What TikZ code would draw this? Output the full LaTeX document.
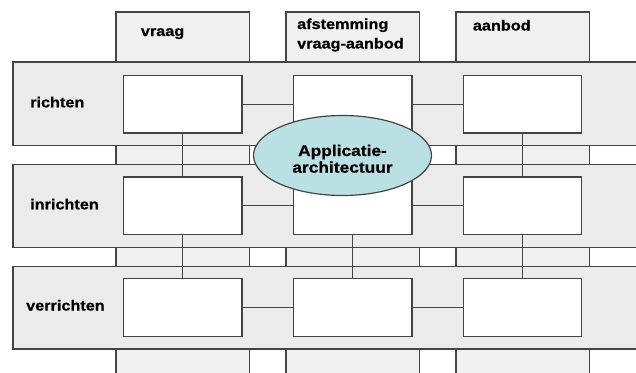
\documentclass[tikz,border=0pt]{standalone}
\usepackage{fontspec}
\setmainfont{Liberation Sans}
\newfontfamily\labfont{Liberation Sans Bold}[FakeStretch=1.12, FakeBold=0.8]
\usetikzlibrary{shapes.geometric}
\definecolor{colfill}{HTML}{F0F0F0}
\definecolor{bandfill}{HTML}{EBEBEB}
\definecolor{edge}{HTML}{444444}
\definecolor{ellfill}{HTML}{BBE0E3}
\tikzset{
  colstrip/.style={draw=edge, fill=colfill, line width=1.2pt},
  band/.style={draw=edge, fill=bandfill, line width=1.2pt},
  cell/.style={draw=edge, fill=white, line width=1.2pt, minimum width=118.5pt, minimum height=57.5pt, inner sep=0pt},
  conn/.style={draw=edge, line width=1.2pt},
  lab/.style={font=\labfont\fontsize{14.5}{17}\selectfont, inner sep=0pt, anchor=base west},
  elllab/.style={font=\labfont\fontsize{15.5}{17}\selectfont, inner sep=0pt, anchor=base},
}
\begin{document}
\begin{tikzpicture}[x=1pt,y=-1pt]
\clip (0,0) rectangle (636,372);
\fill[white] (0,0) rectangle (636,372);
% column strips
\draw[colstrip] (116,12) rectangle (249.3,380);
\draw[colstrip] (286,12) rectangle (419.3,380);
\draw[colstrip] (456,12) rectangle (589.3,380);
% bands
\draw[band] (13,62) rectangle (645,145.7);
\draw[band] (13,164.7) rectangle (645,247.3);
\draw[band] (13,266.3) rectangle (645,349);
% labels
\node[lab] (lvraag) at (140.7,36) {vraag};
\node[lab] (lafst1) at (297,29) {afstemming};
\node[lab] (lafst2) at (297,48.5) {vraag-aanbod};
\node[lab] (laanbod) at (472.7,30.5) {aanbod};
\node[lab] (lrichten) at (30,107.3) {richten};
\node[lab] (linrichten) at (30,209.3) {inrichten};
\node[lab] (lverrichten) at (26,310.5) {verrichten};
% cells
\node[cell] (b11) at (182.8,104.2) {};
\node[cell] (b12) at (352.7,104.2) {};
\node[cell] (b13) at (522.5,104.2) {};
\node[cell] (b21) at (182.8,205.7) {};
\node[cell] (b22) at (352.7,205.7) {};
\node[cell] (b23) at (522.5,205.7) {};
\node[cell] (b31) at (182.8,307.5) {};
\node[cell] (b32) at (352.7,307.5) {};
\node[cell] (b33) at (522.5,307.5) {};
% connectors
\draw[conn] (b11.east) -- (b12.west);
\draw[conn] (b12.east) -- (b13.west);
\draw[conn] (b21.east) -- (b22.west);
\draw[conn] (b22.east) -- (b23.west);
\draw[conn] (b31.east) -- (b32.west);
\draw[conn] (b32.east) -- (b33.west);
\draw[conn] (b11.south) -- (b21.north);
\draw[conn] (b21.south) -- (b31.north);
\draw[conn] (b12.south) -- (b22.north);
\draw[conn] (b22.south) -- (b32.north);
\draw[conn] (b13.south) -- (b23.north);
\draw[conn] (b23.south) -- (b33.north);
% ellipse
\node[ellipse, draw=edge, fill=ellfill, line width=1.2pt, minimum width=178pt, minimum height=80pt, inner sep=0pt] (app) at (342.5,155.5) {};
\node[elllab] (app1) at (342.5,156) {Applicatie-};
\node[elllab] (app2) at (342.5,172.7) {architectuur};
\end{tikzpicture}
\end{document}
